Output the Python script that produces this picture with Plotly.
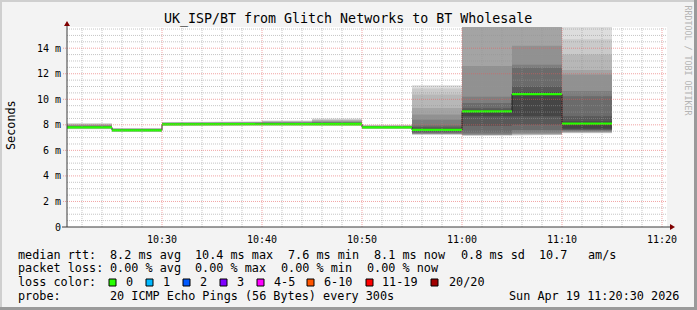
import plotly.graph_objects as go
import pandas as pd

# ---------------- data ----------------
DAY = "2026-04-19 "
interval_starts = ["10:20", "10:25", "10:30", "10:35", "10:40", "10:45",
                   "10:50", "10:55", "11:00", "11:05", "11:10"]
data_end = "11:15"

median_ms = [7.80, 7.57, 8.03, 8.07, 8.07, 8.07, 7.80, 7.60, 9.06, 10.40, 8.10]

# 20 sorted ping RTTs (ms) per 5-minute interval
pings_1020 = [7.66, 7.69, 7.71, 7.73, 7.74, 7.75, 7.76, 7.77, 7.78, 7.79,
              7.81, 7.83, 7.86, 7.89, 7.92, 7.96, 8.00, 8.04, 8.09, 8.15]
pings_1025 = [7.44, 7.46, 7.48, 7.50, 7.51, 7.52, 7.53, 7.54, 7.55, 7.56,
              7.58, 7.59, 7.61, 7.63, 7.65, 7.67, 7.69, 7.71, 7.73, 7.76]
pings_1030 = [7.90, 7.93, 7.95, 7.97, 7.98, 7.99, 8.00, 8.01, 8.02, 8.02,
              8.04, 8.06, 8.08, 8.10, 8.12, 8.14, 8.16, 8.18, 8.20, 8.23]
pings_1035 = [7.94, 7.96, 7.98, 8.00, 8.01, 8.02, 8.03, 8.04, 8.05, 8.06,
              8.08, 8.10, 8.12, 8.14, 8.16, 8.18, 8.20, 8.22, 8.24, 8.27]
pings_1040 = [7.94, 7.96, 7.98, 8.00, 8.01, 8.02, 8.03, 8.04, 8.05, 8.06,
              8.08, 8.10, 8.12, 8.15, 8.18, 8.21, 8.24, 8.27, 8.30, 8.34]
pings_1045 = [7.95, 7.97, 7.99, 8.00, 8.01, 8.02, 8.03, 8.04, 8.05, 8.06,
              8.08, 8.11, 8.14, 8.18, 8.22, 8.27, 8.32, 8.37, 8.43, 8.50]
pings_1050 = [7.68, 7.70, 7.72, 7.73, 7.74, 7.75, 7.76, 7.77, 7.78, 7.79,
              7.81, 7.83, 7.85, 7.87, 7.89, 7.91, 7.93, 7.95, 7.97, 8.00]
pings_1055 = [7.22, 7.24, 7.26, 7.28, 7.30, 7.33, 7.38, 7.45, 7.52, 7.58,
              7.62, 7.70, 7.80, 7.94, 8.40, 8.80, 9.32, 10.37, 10.84, 11.10]
pings_1100 = [7.15, 7.17, 7.19, 7.21, 7.23, 7.26, 7.40, 7.90, 8.67, 9.03,
              9.09, 9.15, 9.30, 9.70, 10.20, 12.60, 16.50, 19.00, 23.00, 30.00]
pings_1105 = [7.20, 7.22, 7.25, 7.27, 7.30, 7.40, 7.60, 8.00, 8.67, 10.37,
              10.43, 10.55, 11.00, 12.46, 12.70, 14.20, 17.00, 20.00, 25.00, 40.00]
pings_1110 = [7.35, 7.38, 7.40, 7.42, 7.45, 7.50, 7.57, 7.62, 7.70, 8.06,
              8.14, 8.27, 8.67, 10.24, 10.65, 11.94, 12.30, 13.50, 14.70, 17.00]

pings_all = [pings_1020, pings_1025, pings_1030, pings_1035, pings_1040, pings_1045,
             pings_1050, pings_1055, pings_1100, pings_1105, pings_1110]

x_range = ["10:20:30", "11:20:30"]
y_top_ms = 15.66
y_tick_vals = [0, 2, 4, 6, 8, 10, 12, 14]
y_tick_text = ["0", "2 m", "4 m", "6 m", "8 m", "10 m", "12 m", "14 m"]
x_tick_vals = ["10:30", "10:40", "10:50", "11:00", "11:10", "11:20"]
x_tick_text = ["10:30", "10:40", "10:50", "11:00", "11:10", "11:20"]

title_text = "UK_ISP/BT from Glitch Networks to BT Wholesale"
y_title = "Seconds"
watermark = "RRDTOOL / TOBI OETIKER"

rtt_label = "median rtt:"
rtt_items = ["8.2 ms avg", "10.4 ms max", "7.6 ms min", "8.1 ms now", "0.8 ms sd", "10.7", "am/s"]
loss_label = "packet loss:"
loss_items = ["0.00 % avg", "0.00 % max", "0.00 % min", "0.00 % now"]
color_label = "loss color:"
loss_labels = ["0", "1", "2", "3", "4-5", "6-10", "11-19", "20/20"]
loss_colors = ["#26ff00", "#00b8ff", "#0059ff", "#7e00ff", "#ff00ff", "#ff5500", "#ff0000", "#a00000"]
probe_label = "probe:"
probe_text = "20 ICMP Echo Pings (56 Bytes) every 300s"
date_text = "Sun Apr 19 11:20:30 2026"

# ---------------- layout geometry (pixels) ----------------
W, H = 697, 310
PL, PT, PW, PH = 67, 27, 600, 200
MONO = "DejaVu Sans Mono"


def px(x):
    return (x - PL) / PW


def py(y):
    return (PT + PH - y) / PH


t = [pd.Timestamp(DAY + s) for s in interval_starts] + [pd.Timestamp(DAY + data_end)]


def steps(vals):
    xs, ys = [], []
    for i, v in enumerate(vals):
        xs += [t[i], t[i + 1]]
        ys += [v, v]
    return xs, ys


def band(lo, hi, color):
    xl, yl = steps(lo)
    xh, yh = steps(hi)
    return go.Scatter(x=xh + xl[::-1], y=yh + yl[::-1], fill="toself", fillcolor=color,
                      mode="lines", line=dict(width=0), hoverinfo="skip", showlegend=False)


fig = go.Figure()

# smoke
n = 20
half = n // 2
for k in range(1, half + 1):
    g = int(190 / half * (half - k)) + 50
    lo = [p[k - 1] for p in pings_all]
    hi = [p[n - k] for p in pings_all]
    fig.add_trace(band(lo, hi, f"rgb({g},{g},{g})"))

# median black line
mx, my = steps(median_ms)
fig.add_trace(go.Scatter(x=mx, y=my, mode="lines", line=dict(color="#202020", width=1),
                         hoverinfo="skip", showlegend=False))
# green loss-colour band around the median
sw = 0.085
fig.add_trace(band([m - sw for m in median_ms], [m + sw for m in median_ms], loss_colors[0]))

shapes = []
GRID = "rgba(150,150,150,0.55)"
MGRID = "rgba(230,90,90,0.55)"
DASH = "1px,1px"

# vertical grid
for ts in pd.date_range(DAY + "10:22", DAY + "11:20", freq="2min"):
    major = ts.minute % 10 == 0
    shapes.append(dict(type="line", xref="x", yref="paper", x0=ts, x1=ts, y0=0, y1=1,
                       line=dict(color=MGRID if major else GRID, width=1, dash=DASH), layer="above"))
# horizontal grid
k = 1
while k * 0.5 < y_top_ms:
    v = k * 0.5
    major = (k % 4 == 0)
    shapes.append(dict(type="line", xref="paper", yref="y", x0=(px(63) if major else 0), x1=1,
                       y0=v, y1=v,
                       line=dict(color=MGRID if major else GRID, width=1, dash=DASH), layer="above"))
    k += 1

AXIS = "#3a3a3a"
ARROW = "#7f0000"
# axes
shapes.append(dict(type="line", xref="paper", yref="paper", x0=0, x1=0, y0=0, y1=py(24),
                   line=dict(color=AXIS, width=1), layer="above"))
shapes.append(dict(type="line", xref="paper", yref="paper", x0=px(62), x1=px(671), y0=0, y1=0,
                   line=dict(color=AXIS, width=1), layer="above"))
shapes.append(dict(type="path", xref="paper", yref="paper",
                   path=f"M {px(64)} {py(26)} L {px(67)} {py(21)} L {px(70)} {py(26)} Z",
                   fillcolor=ARROW, line=dict(width=0), layer="above"))
shapes.append(dict(type="path", xref="paper", yref="paper",
                   path=f"M {px(670)} {py(224)} L {px(675)} {py(227)} L {px(670)} {py(230)} Z",
                   fillcolor=ARROW, line=dict(width=0), layer="above"))

# 3D frame
shapes.append(dict(type="rect", xref="paper", yref="paper", x0=px(0), x1=px(W), y0=py(0), y1=py(2),
                   fillcolor="#cfcfcf", line=dict(width=0), layer="below"))
shapes.append(dict(type="rect", xref="paper", yref="paper", x0=px(0), x1=px(2), y0=py(0), y1=py(H),
                   fillcolor="#cfcfcf", line=dict(width=0), layer="below"))
shapes.append(dict(type="rect", xref="paper", yref="paper", x0=px(0), x1=px(W), y0=py(H - 3), y1=py(H),
                   fillcolor="#9a9a9a", line=dict(width=0), layer="below"))
shapes.append(dict(type="rect", xref="paper", yref="paper", x0=px(W - 3), x1=px(W), y0=py(0), y1=py(H),
                   fillcolor="#9a9a9a", line=dict(width=0), layer="below"))

# loss colour boxes
box_x = [109, 146, 183, 220, 257, 307, 366, 431]
lab_x = [124, 161, 198, 235, 271.7, 322, 380.3, 446.7]
for bx, c in zip(box_x, loss_colors):
    shapes.append(dict(type="rect", xref="paper", yref="paper", x0=px(bx), x1=px(bx + 7),
                       y0=py(286), y1=py(279), fillcolor=c, line=dict(color="black", width=1),
                       layer="above"))

ann = []


def text(x, y, s, size=11.8, anchor="left", color="black", angle=0):
    ann.append(dict(x=px(x), y=py(y), xref="paper", yref="paper", text=s, showarrow=False,
                    xanchor=anchor, yanchor="middle", textangle=angle,
                    font=dict(family=MONO, size=size, color=color)))


text(348, 19, title_text, size=13.3, anchor="center")
text(10.5, 125.5, y_title, size=11.8, anchor="center", angle=-90)
text(687.5, 60, watermark, size=8.3, anchor="center", color="#b4b4b4", angle=90)

row1, row2, row3, row4 = 254.5, 268.2, 282.4, 296.2
text(16, row1, rtt_label)
for xx, s in zip([107.5, 193.3, 286, 372, 458.7, 537.3, 586], rtt_items):
    text(xx, row1, s)
text(16, row2, loss_label)
for xx, s in zip([107.5, 193.3, 279.3, 365.3], loss_items):
    text(xx, row2, s)
text(16, row3, color_label)
for xx, s in zip(lab_x, loss_labels):
    text(xx, row3, s)
text(16, row4, probe_label)
text(107.5, row4, probe_text)
text(680.5, row4, date_text, anchor="right")

fig.update_layout(
    width=W, height=H,
    margin=dict(l=PL, r=W - PL - PW, t=PT, b=H - PT - PH, pad=0),
    paper_bgcolor="#f3f3f3", plot_bgcolor="#ffffff",
    shapes=shapes, annotations=ann, showlegend=False,
    xaxis=dict(type="date", range=[DAY + x_range[0], DAY + x_range[1]],
               tickvals=[DAY + v for v in x_tick_vals], ticktext=x_tick_text,
               showgrid=False, zeroline=False, showline=False,
               ticks="outside", ticklen=3, tickcolor="rgba(0,0,0,0)",
               tickfont=dict(family=MONO, size=10, color="black"), fixedrange=True),
    yaxis=dict(range=[0, y_top_ms], tickvals=y_tick_vals, ticktext=y_tick_text,
               showgrid=False, zeroline=False, showline=False,
               ticks="outside", ticklen=3, tickcolor="rgba(0,0,0,0)",
               tickfont=dict(family=MONO, size=10, color="black"), fixedrange=True),
)

fig.write_html("out.html")
